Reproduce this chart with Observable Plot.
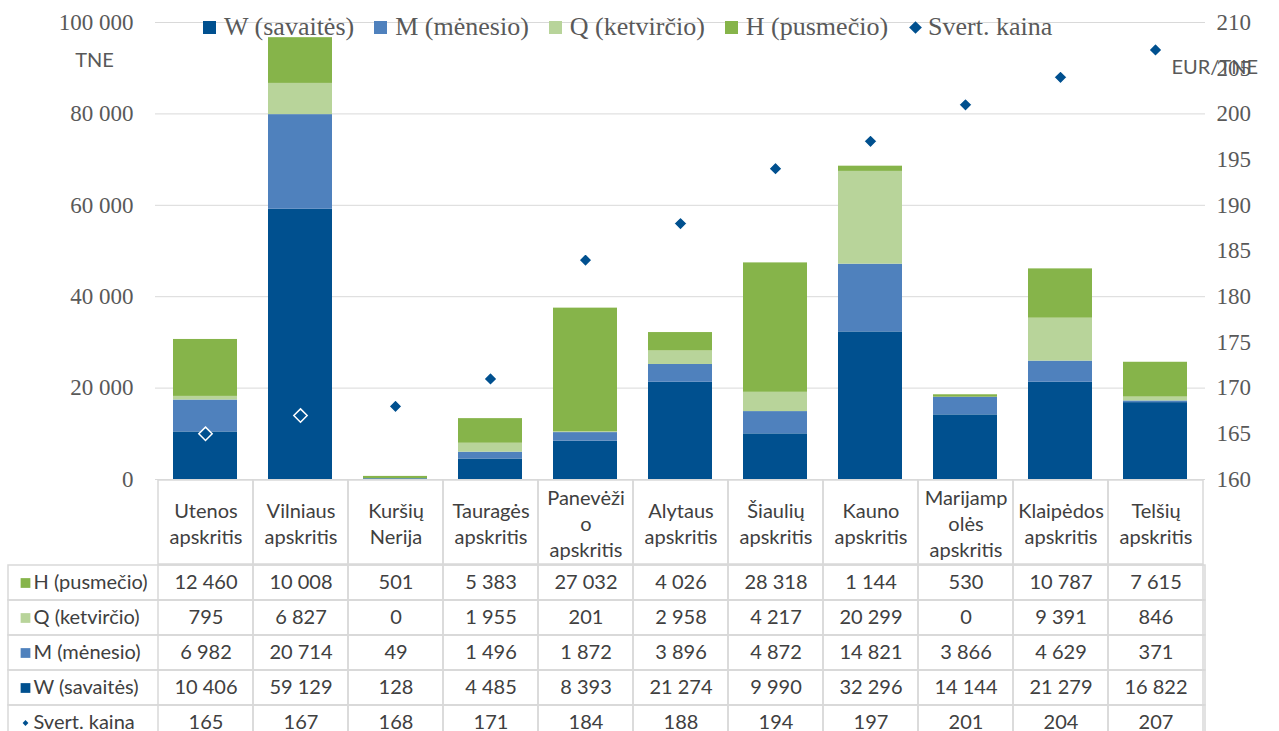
<!DOCTYPE html>
<html><head><meta charset="utf-8">
<script src="https://cdn.jsdelivr.net/npm/d3@7"></script>
<script src="https://cdn.jsdelivr.net/npm/@observablehq/plot@0.6"></script>
<style>
body{margin:0;background:#fff;overflow:hidden}
#wrap{position:relative;width:1279px;height:731px;overflow:hidden;background:#fff}
#wrap > svg{position:absolute;left:0;overflow:visible}
.legend{position:absolute;left:203px;top:12px;display:flex;align-items:center;font-family:"Liberation Serif",serif;font-size:26px;color:#595959;white-space:nowrap}
.legend .it{display:flex;align-items:center;margin-right:20px}
.legend .sw{width:13px;height:13px;margin-right:8px}
.legend .dm{width:9px;height:9px;transform:rotate(45deg);margin:0 8px 0 3px}
</style></head><body><div id="wrap"></div>
<script>
const regions = ["Utenos apskritis","Vilniaus apskritis","Kuršių Nerija","Tauragės apskritis","Panevėžio apskritis","Alytaus apskritis","Šiaulių apskritis","Kauno apskritis","Marijampolės apskritis","Klaipėdos apskritis","Telšių apskritis"];
const headerLabels = ["Utenos\napskritis","Vilniaus\napskritis","Kuršių\nNerija","Tauragės\napskritis","Panevėži\no\napskritis","Alytaus\napskritis","Šiaulių\napskritis","Kauno\napskritis","Marijamp\nolės\napskritis","Klaipėdos\napskritis","Telšių\napskritis"];
const H = [12460,10008,501,5383,27032,4026,28318,1144,530,10787,7615];
const Q = [795,6827,0,1955,201,2958,4217,20299,0,9391,846];
const M = [6982,20714,49,1496,1872,3896,4872,14821,3866,4629,371];
const W = [10406,59129,128,4485,8393,21274,9990,32296,14144,21279,16822];
const price = [165,167,168,171,184,188,194,197,201,204,207];
const seriesNames = ["W (savaitės)","M (mėnesio)","Q (ketvirčio)","H (pusmečio)"];
const priceName = "Svert. kaina";
const colors = ["#00508f","#4f81bd","#b8d49a","#86b44a"];
const leftTicks = [0,20000,40000,60000,80000,100000];
const rightTicks = [160,165,170,175,180,185,190,195,200,205,210];
const leftUnit = "TNE";
const rightUnit = "EUR/TNE";

const seriesValues = [W, M, Q, H];
const long = [];
regions.forEach((r, i) => seriesNames.forEach((s, k) => long.push({region: r, series: s, value: seriesValues[k][i]})));
const points = regions.map((r, i) => ({region: r, price: price[i]}));
const pMin = 160, pMax = 210, yMax = 100000;
const toY = p => (p - pMin) / (pMax - pMin) * yMax;
const fromY = v => Math.round(pMin + v / yMax * (pMax - pMin));
const fmt = v => d3.format(",")(v).replace(/,/g, "\u00a0");

const W_ = 1279, ML = 155, MR = 74;
const grid = "#d9d9d9";
const sans = "Lato, 'Open Sans', sans-serif";
const txt = "#404040";

const chart = Plot.plot({
  width: W_, height: 480, marginTop: 22, marginBottom: 1, marginLeft: ML, marginRight: MR,
  style: {fontFamily: "'Liberation Serif', serif", fontSize: "23px", color: "#595959", background: "transparent", overflow: "visible"},
  x: {domain: regions, paddingInner: 0.33, paddingOuter: 0.165, axis: null},
  y: {domain: [0, yMax], axis: null},
  color: {domain: seriesNames, range: colors},
  marks: [
    Plot.gridY(leftTicks, {stroke: grid, strokeOpacity: 1}),
    Plot.axisY(leftTicks, {anchor: "left", label: null, tickSize: 0, tickPadding: 22, tickFormat: fmt, fill: "#595959"}),
    Plot.axisY(rightTicks.map(toY), {anchor: "right", label: null, tickSize: 0, tickPadding: 11, tickFormat: fromY, fill: "#595959"}),
    Plot.barY(long, {x: "region", y: "value", fill: "series"}),
    Plot.dot(points, {x: "region", y: d => toY(d.price), symbol: "diamond2", r: 6, fill: "#00508f", stroke: "white", strokeWidth: 1.5}),
    Plot.text([leftUnit], {frameAnchor: "top-left", textAnchor: "middle", lineAnchor: "middle", dx: -61, dy: 38, text: d => d, fontFamily: sans, fontSize: 20, fill: "#595959"}),
    Plot.text([rightUnit], {frameAnchor: "top-right", textAnchor: "start", lineAnchor: "middle", dx: -34, dy: 45, text: d => d, fontFamily: sans, fontSize: 20, fill: "#595959"})
  ]
});
chart.style.top = "0px";

const header = Plot.plot({
  width: W_, height: 84, marginTop: 0, marginBottom: 0, marginLeft: ML, marginRight: MR,
  style: {background: "transparent", overflow: "visible"},
  x: {domain: regions, padding: 0, axis: null},
  marks: [
    Plot.cell(regions, {x: d => d, stroke: grid, strokeWidth: 1.5, fill: "none"}),
    Plot.text(regions, {x: d => d, text: (d, i) => headerLabels[i], frameAnchor: "middle", lineHeight: 1.3, fontFamily: sans, fontSize: 20, fill: txt})
  ]
});
header.style.top = "480px";

const rowLabels = ["H (pusmečio)","Q (ketvirčio)","M (mėnesio)","W (savaitės)", priceName];
const rowValues = [H, Q, M, W, price];
const rowColors = ["#86b44a","#b8d49a","#4f81bd","#00508f"];
const cells = [];
rowLabels.forEach((rl, k) => regions.forEach((r, i) => cells.push({row: rl, region: r, value: rowValues[k][i]})));

const body = Plot.plot({
  width: W_, height: 177, marginTop: 0, marginBottom: 0, marginLeft: ML, marginRight: MR,
  style: {background: "transparent", overflow: "visible"},
  x: {domain: regions, padding: 0, axis: null},
  y: {domain: rowLabels, padding: 0, axis: null},
  marks: [
    Plot.cell(rowLabels, {y: d => d, insetLeft: -147, stroke: grid, strokeWidth: 1.5, fill: "none"}),
    Plot.cell(cells, {x: "region", y: "row", stroke: grid, strokeWidth: 1.5, fill: "none"}),
    Plot.text(cells, {x: "region", y: "row", text: d => fmt(d.value), fontFamily: sans, fontSize: 20, fill: txt}),
    Plot.dot(rowLabels.slice(0, 4), {y: d => d, frameAnchor: "left", dx: -130, symbol: "square", r: 5.5, fill: (d, i) => rowColors[i]}),
    Plot.dot([priceName], {y: d => d, frameAnchor: "left", dx: -130, symbol: "diamond2", r: 2.6, fill: "#00508f"}),
    Plot.text(rowLabels, {y: d => d, frameAnchor: "left", textAnchor: "start", dx: -122, text: d => d, fontFamily: sans, fontSize: 20, fill: txt})
  ]
});
body.style.top = "564px";

const wrap = document.getElementById("wrap");
wrap.append(chart, header, body);

const legend = document.createElement("div");
legend.className = "legend";
seriesNames.forEach((s, i) => {
  const it = document.createElement("div"); it.className = "it";
  const sw = document.createElement("div"); sw.className = "sw"; sw.style.background = colors[i];
  const t = document.createElement("span"); t.textContent = s;
  it.append(sw, t); legend.append(it);
});
{
  const it = document.createElement("div"); it.className = "it";
  const sw = document.createElement("div"); sw.className = "dm"; sw.style.background = "#00508f";
  const t = document.createElement("span"); t.textContent = priceName;
  it.append(sw, t); legend.append(it);
}
wrap.append(legend);
</script></body></html>
